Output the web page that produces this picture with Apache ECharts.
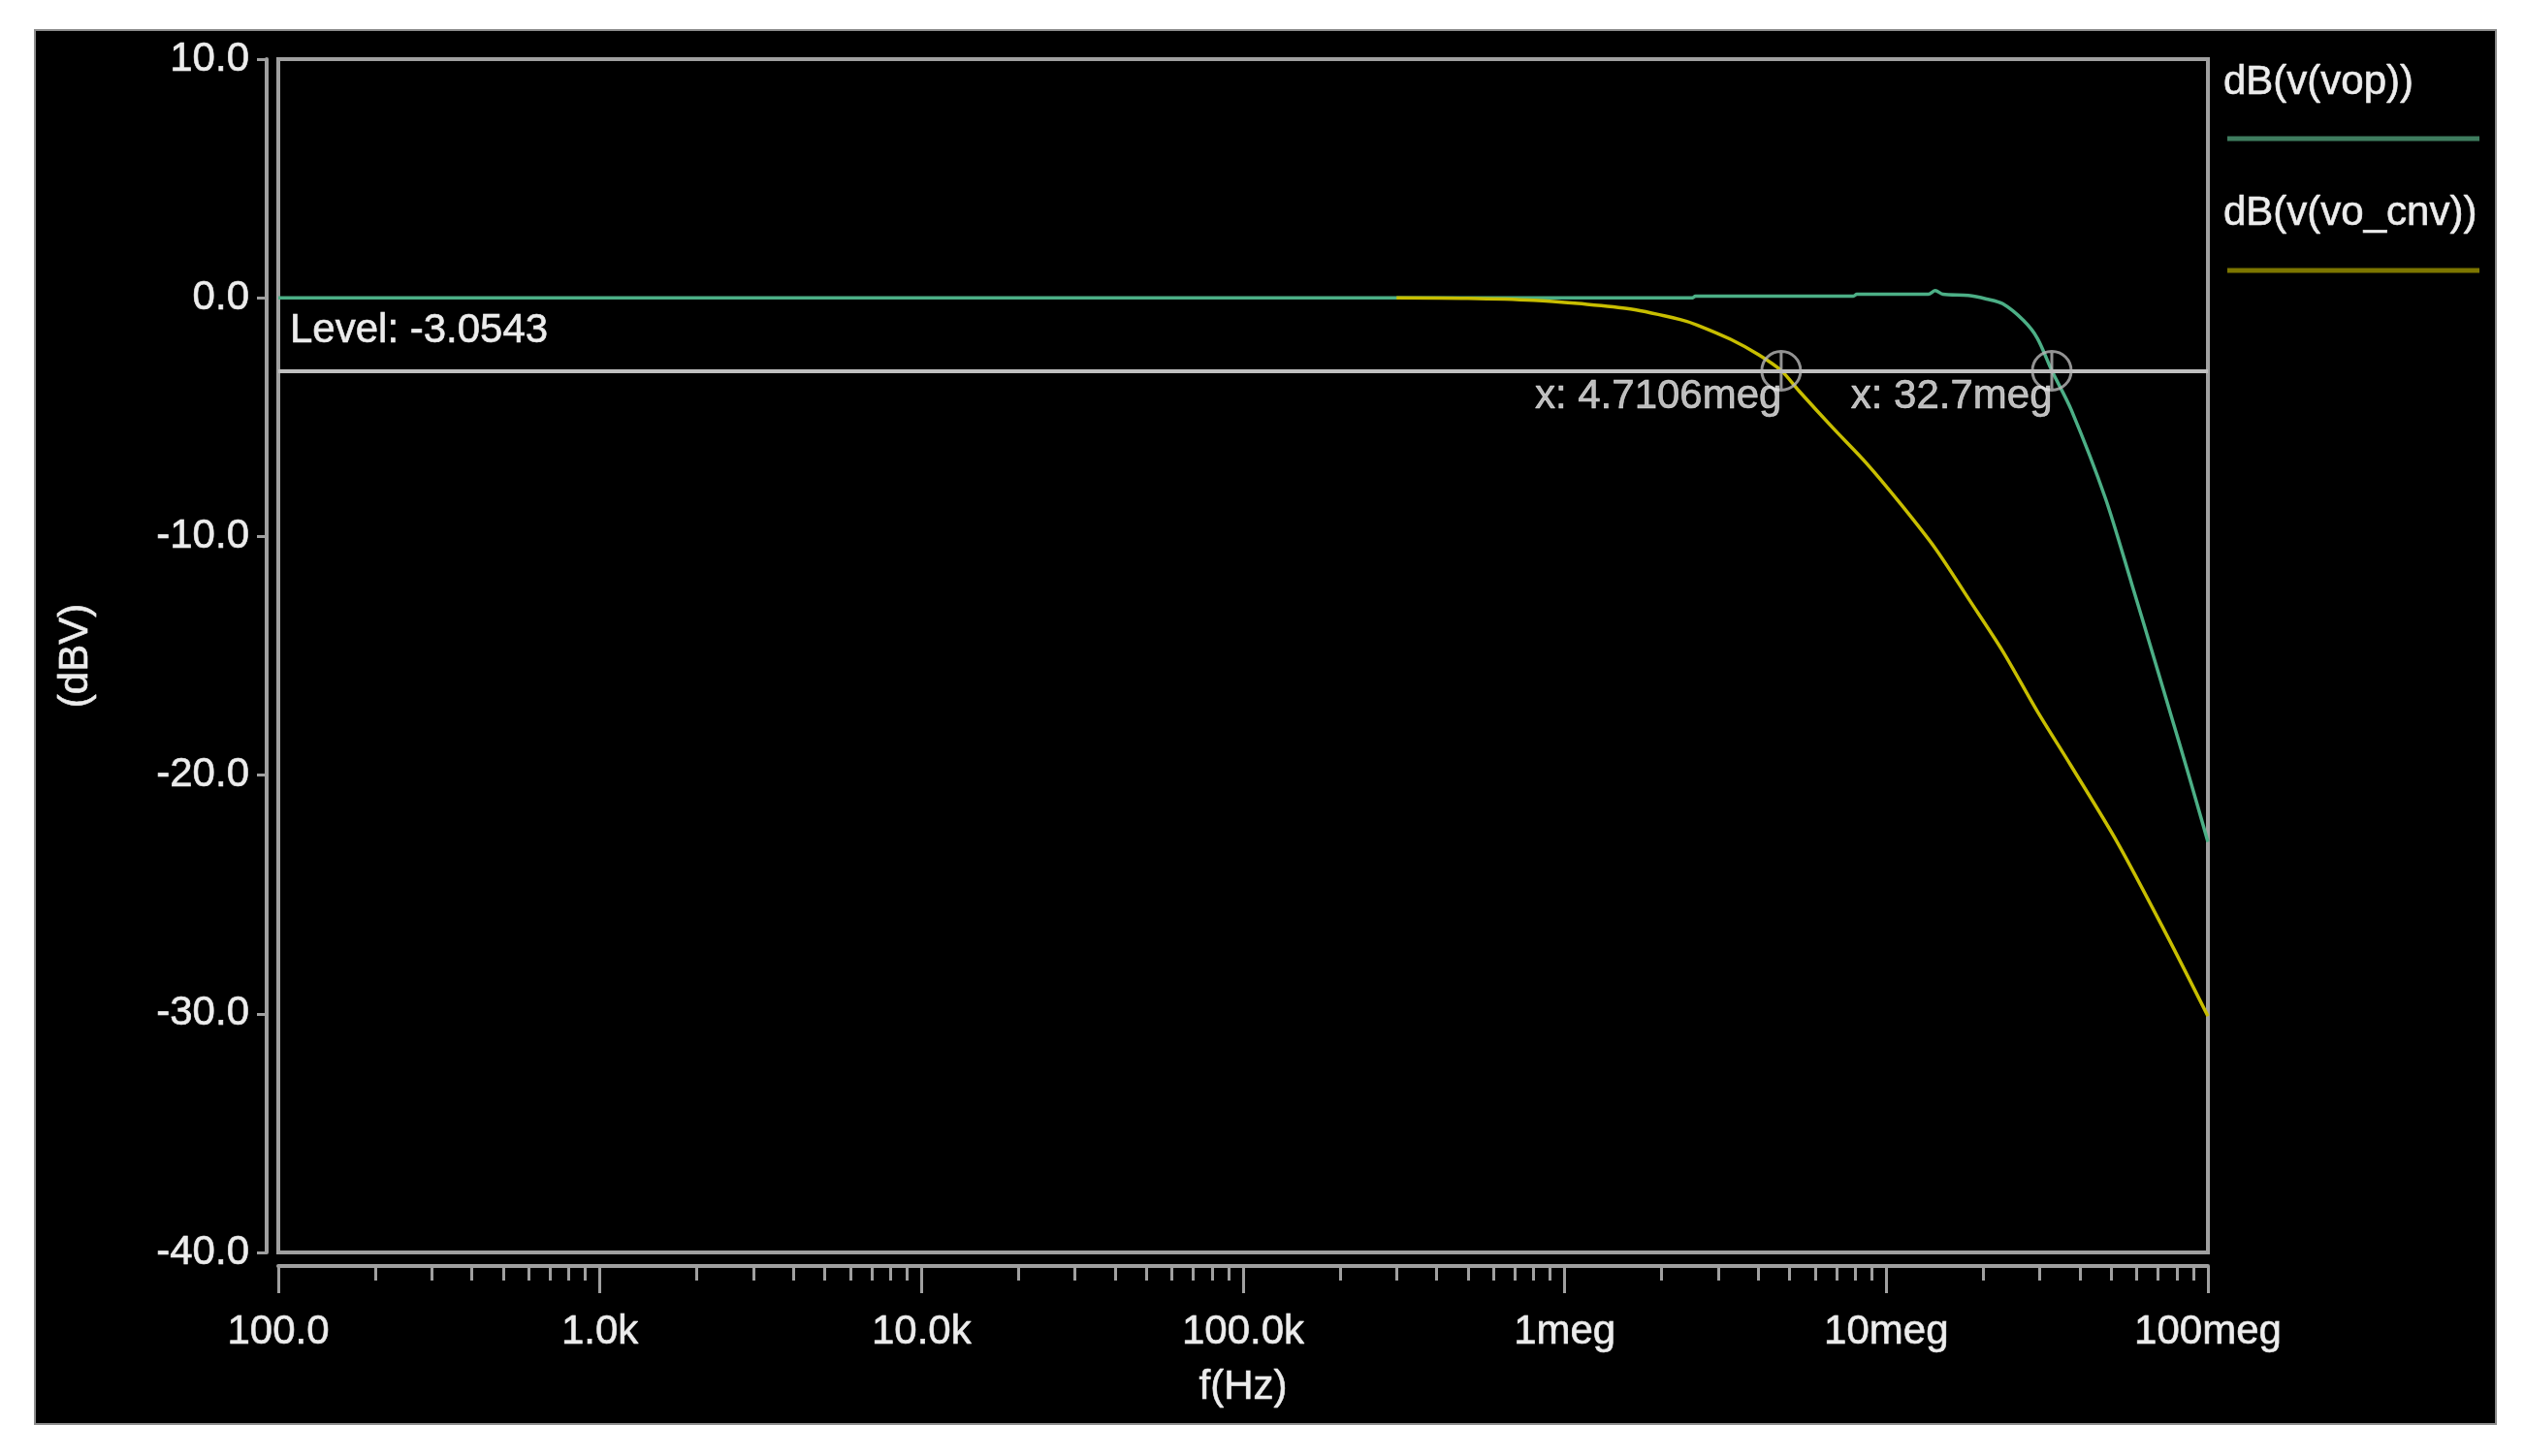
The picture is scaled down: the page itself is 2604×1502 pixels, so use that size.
<!DOCTYPE html>
<html><head><meta charset="utf-8">
<script src="https://cdn.jsdelivr.net/npm/echarts@6/dist/echarts.min.js"></script>
<style>
html,body{margin:0;padding:0;background:#fff;width:2604px;height:1502px;overflow:hidden;}
#panel{position:absolute;left:35px;top:30px;width:2536px;height:1436px;background:#000;border:2px solid #8c8c8c;}
#chart{position:absolute;left:0;top:0;width:2604px;height:1502px;}
</style></head><body>
<div id="panel"></div><div id="chart"></div>
<script>
// ---- data ----
const seriesNames = ['dB(v(vop))', 'dB(v(vo_cnv))'];
const xTickValues = [1e2, 1e3, 1e4, 1e5, 1e6, 1e7, 1e8];
const xTickLabels = ['100.0', '1.0k', '10.0k', '100.0k', '1meg', '10meg', '100meg'];
const yTickValues = [10, 0, -10, -20, -30, -40];

const vopFreq = [100, 1e3, 1e4, 1e5, 1e6, 2.5e6, 2.55e6, 7.9e6, 8.1e6, 13.5e6, 14.2e6, 15e6, 18e6, 20.5e6, 23e6, 26.7e6, 29.5e6, 32.7e6, 37.6e6, 48e6, 58e6, 68.7e6, 78e6, 85e6, 92.5e6, 1e8];
const vopDb   = [0, 0, 0, 0, 0, 0, 0.07, 0.07, 0.15, 0.15, 0.3, 0.15, 0.1, -0.05, -0.25, -0.95, -1.7, -3.05, -4.7, -8.4, -12.0, -15.3, -17.8, -19.5, -21.2, -22.8];

const cnvFreq = [3e5, 5e5, 8e5, 1.1e6, 1.6e6, 2.3e6, 2.58e6, 3.28e6, 4.0e6, 4.7106e6, 5.35e6, 6.82e6, 8.7e6, 11.1e6, 14.2e6, 18.1e6, 23e6, 29.4e6, 37.5e6, 52.2e6, 73.8e6, 1e8];
const cnvDb   = [0, -0.02, -0.1, -0.24, -0.47, -0.92, -1.14, -1.74, -2.38, -3.05, -3.9, -5.45, -6.95, -8.65, -10.5, -12.65, -14.8, -17.3, -19.6, -22.8, -26.6, -30.1];

const levelValue = -3.0543;
const markerFreqs = [4.7106e6, 32.7e6];
const markerLabels = ['x: 4.7106meg', 'x: 32.7meg'];

// ---- chart ----
const FONT = 'Liberation Sans';
const TXT = '#ececec';
const AX = '#a0a0a0';
const minorTicks = [];
xTickValues.slice(0, -1).forEach(d => { for (let k = 2; k <= 9; k++) minorTicks.push(k * d); });
const txt = (extra) => Object.assign({color: TXT, fontSize: 42, fontFamily: FONT, textBorderColor: TXT, textBorderWidth: 0.6}, extra || {});

const chart = echarts.init(document.getElementById('chart'), null, {renderer: 'canvas'});
chart.setOption({
  animation: false,
  backgroundColor: 'transparent',
  textStyle: {fontFamily: FONT},
  grid: {left: 287, right: 327, top: 61, bottom: 210, show: true, borderColor: AX, borderWidth: 4,
         backgroundColor: 'transparent', containLabel: false, outerBoundsMode: 'none'},
  xAxis: [{
    type: 'log', logBase: 10, min: 1e2, max: 1e8, position: 'bottom', offset: 14,
    name: 'f(Hz)', nameLocation: 'middle', nameGap: 104, nameMoveOverlap: false,
    nameTextStyle: txt(),
    axisLine: {show: true, onZero: false, lineStyle: {color: AX, width: 4}},
    axisTick: {show: true, length: 28, lineStyle: {color: AX, width: 3}, customValues: xTickValues},
    axisLabel: txt({show: true, margin: 47, customValues: xTickValues,
      formatter: v => { const i = xTickValues.findIndex(t => Math.abs(Math.log10(t) - Math.log10(v)) < 1e-6); return i >= 0 ? xTickLabels[i] : ''; }}),
    splitLine: {show: false}, minorTick: {show: false}
  }, {
    type: 'log', logBase: 10, min: 1e2, max: 1e8, position: 'bottom', offset: 14,
    axisLine: {show: false, onZero: false},
    axisTick: {show: true, length: 15, lineStyle: {color: AX, width: 3}, customValues: minorTicks},
    axisLabel: {show: false}, splitLine: {show: false}
  }],
  yAxis: {
    type: 'value', min: -40, max: 10, interval: 10, position: 'left', offset: 12,
    name: '(dBV)', nameLocation: 'middle', nameGap: 176, nameMoveOverlap: false,
    nameTextStyle: txt(),
    axisLine: {show: true, onZero: false, lineStyle: {color: AX, width: 4}},
    axisTick: {show: true, length: 10, lineStyle: {color: AX, width: 3}},
    axisLabel: txt({show: true, margin: 18, formatter: v => v.toFixed(1)}),
    splitLine: {show: false}
  },
  series: [{
    name: seriesNames[0], type: 'line', xAxisIndex: 0, showSymbol: false, symbol: 'none', z: 3,
    smooth: 0.3,
    lineStyle: {color: '#4caf86', width: 3.5}, data: vopFreq.map((f, i) => [f, vopDb[i]])
  }, {
    name: seriesNames[1], type: 'line', xAxisIndex: 0, showSymbol: false, symbol: 'none', z: 4,
    smooth: 0.3,
    lineStyle: {color: '#c8be00', width: 3.5}, data: cnvFreq.map((f, i) => [f, cnvDb[i]])
  }, {
    name: 'cursors', type: 'scatter', xAxisIndex: 0, z: 5, silent: true,
    symbol: 'path://M20,0 A20,20 0 1 1 19.99,0 Z M20,0 L20,40 M0,20 L40,20', symbolSize: 40,
    itemStyle: {color: 'rgba(0,0,0,0)', borderColor: '#b8b8b8', borderWidth: 3},
    label: txt({show: true, position: [22, 49], align: 'right', verticalAlign: 'middle',
      formatter: p => markerLabels[p.dataIndex]}),
    data: markerFreqs.map(f => [f, levelValue]),
    markLine: {silent: true, symbol: ['none', 'none'], animation: false,
      lineStyle: {color: '#c0c0c0', width: 4, type: 'solid'},
      label: txt({show: true, position: 'insideStartTop', distance: [12, 20],
        formatter: () => 'Level: ' + levelValue}),
      emphasis: {disabled: true},
      data: [{yAxis: levelValue}]}
  }],
  graphic: {elements: [
    {type: 'text', x: 2293, y: 85, style: {text: seriesNames[0], fill: TXT, stroke: TXT, lineWidth: 0.6, font: '42px "' + FONT + '"', verticalAlign: 'middle', align: 'left'}},
    {type: 'line', shape: {x1: 2297, y1: 143, x2: 2557, y2: 143}, style: {stroke: '#3f7d5f', lineWidth: 5}},
    {type: 'text', x: 2293, y: 220, style: {text: seriesNames[1], fill: TXT, stroke: TXT, lineWidth: 0.6, font: '42px "' + FONT + '"', verticalAlign: 'middle', align: 'left'}},
    {type: 'line', shape: {x1: 2297, y1: 279, x2: 2557, y2: 279}, style: {stroke: '#7d7600', lineWidth: 5}}
  ]}
});
</script>
</body></html>
